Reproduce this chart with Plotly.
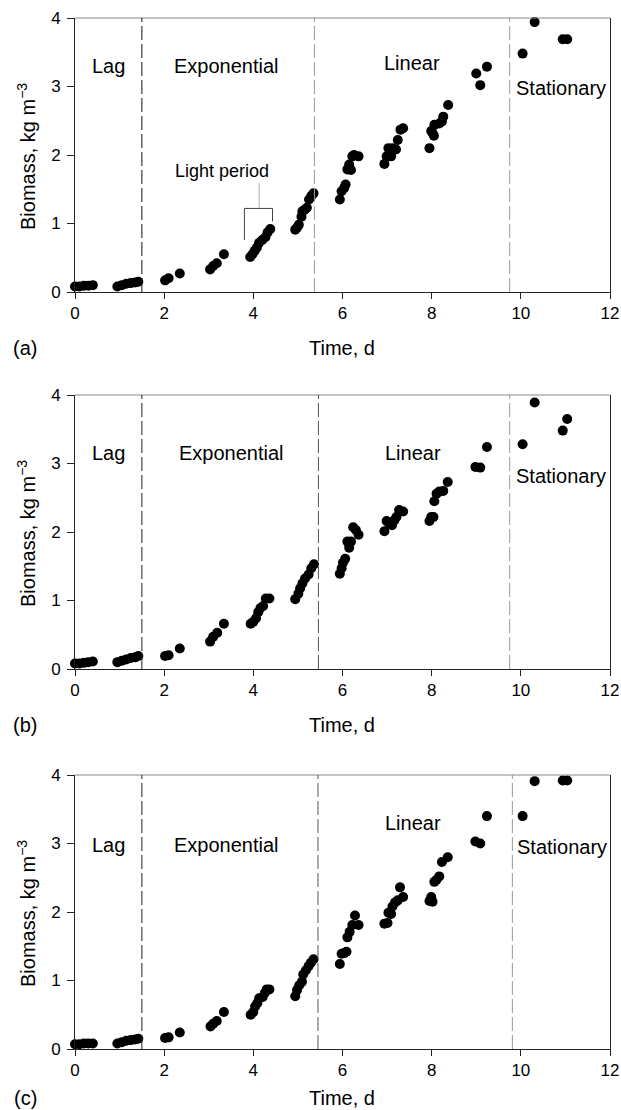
import plotly.graph_objects as go

# ---------------- data ----------------
time_a = [0.0, 0.1, 0.2, 0.3, 0.4,
          0.95, 1.05, 1.15, 1.25, 1.35, 1.42,
          2.02, 2.1, 2.35,
          3.03, 3.1, 3.18, 3.34,
          3.93, 3.98, 4.03, 4.08, 4.13, 4.2, 4.27, 4.32, 4.38,
          4.94, 4.98, 5.02, 5.08, 5.1, 5.15, 5.2, 5.25, 5.3, 5.35,
          5.94, 5.98, 6.04, 6.07, 6.11, 6.15, 6.19, 6.22, 6.26, 6.36,
          6.94, 6.99, 7.03, 7.09, 7.12, 7.2, 7.24, 7.3, 7.36,
          7.95, 7.99, 8.02, 8.05, 8.06, 8.17, 8.23, 8.26, 8.37,
          9.0, 9.09, 9.24,
          10.04, 10.31,
          10.94, 11.04]
biomass_a = [0.08, 0.08, 0.09, 0.09, 0.10,
             0.08, 0.10, 0.12, 0.13, 0.14, 0.15,
             0.17, 0.20, 0.27,
             0.33, 0.38, 0.42, 0.55,
             0.51, 0.55, 0.60, 0.65, 0.72, 0.76, 0.80, 0.87, 0.92,
             0.91, 0.94, 0.98, 1.10, 1.18, 1.20, 1.23, 1.35, 1.40, 1.44,
             1.35, 1.47, 1.52, 1.57, 1.79, 1.86, 1.78, 1.98, 2.00, 1.98,
             1.87, 1.98, 2.10, 1.98, 2.10, 2.08, 2.22, 2.37, 2.39,
             2.10, 2.35, 2.32, 2.28, 2.44, 2.46, 2.49, 2.56, 2.73,
             3.19, 3.02, 3.29,
             3.48, 3.94,
             3.69, 3.69]

time_b = [0.0, 0.1, 0.2, 0.3, 0.4,
          0.95, 1.05, 1.15, 1.25, 1.35, 1.42,
          2.02, 2.1, 2.35,
          3.03, 3.1, 3.19, 3.34,
          3.94, 4.0, 4.06, 4.11, 4.16, 4.22, 4.28, 4.36,
          4.94, 5.01, 5.05, 5.1, 5.16, 5.24, 5.3, 5.36,
          5.94, 5.98, 6.01, 6.06, 6.11, 6.15, 6.19, 6.24, 6.3, 6.36,
          6.94, 6.99, 7.05, 7.11, 7.16, 7.21, 7.27, 7.36,
          7.95, 7.99, 8.04, 8.06, 8.11, 8.17, 8.26, 8.36,
          8.98, 9.09, 9.24,
          10.04, 10.31,
          10.94, 11.04]
biomass_b = [0.08, 0.08, 0.09, 0.10, 0.11,
             0.10, 0.12, 0.14, 0.16, 0.17, 0.19,
             0.19, 0.20, 0.30,
             0.40, 0.47, 0.53, 0.66,
             0.66, 0.69, 0.74, 0.83, 0.89, 0.92, 1.03, 1.03,
             1.02, 1.10, 1.18, 1.25, 1.32, 1.38, 1.47, 1.53,
             1.39, 1.47, 1.55, 1.61, 1.86, 1.77, 1.86, 2.07, 2.03, 1.96,
             2.01, 2.16, 2.12, 2.10, 2.17, 2.22, 2.32, 2.30,
             2.16, 2.22, 2.22, 2.45, 2.56, 2.59, 2.60, 2.73,
             2.95, 2.94, 3.24,
             3.28, 3.89,
             3.48, 3.65]

time_c = [0.0, 0.1, 0.2, 0.3, 0.4,
          0.95, 1.05, 1.15, 1.25, 1.35, 1.42,
          2.02, 2.1, 2.35,
          3.04, 3.1, 3.18, 3.34,
          3.94, 4.0, 4.04, 4.09, 4.13, 4.21, 4.26, 4.3, 4.36,
          4.94, 4.98, 5.03, 5.09, 5.12, 5.18, 5.24, 5.29, 5.35,
          5.94, 5.98, 6.04, 6.09, 6.11, 6.16, 6.22, 6.28, 6.36,
          6.94, 7.01, 7.03, 7.09, 7.12, 7.18, 7.24, 7.29, 7.36,
          7.95, 7.99, 8.02, 8.06, 8.11, 8.17, 8.23, 8.36,
          8.98, 9.09, 9.24,
          10.04, 10.31,
          10.94, 11.04]
biomass_c = [0.07, 0.07, 0.08, 0.08, 0.08,
             0.08, 0.10, 0.12, 0.13, 0.14, 0.15,
             0.16, 0.17, 0.24,
             0.33, 0.37, 0.41, 0.54,
             0.50, 0.54, 0.62, 0.67, 0.74, 0.76, 0.82, 0.87, 0.87,
             0.77, 0.86, 0.93, 0.98, 1.09, 1.15, 1.21, 1.26, 1.31,
             1.24, 1.39, 1.40, 1.42, 1.63, 1.71, 1.81, 1.95, 1.81,
             1.83, 1.84, 1.99, 1.97, 2.08, 2.14, 2.17, 2.36, 2.22,
             2.16, 2.22, 2.15, 2.44, 2.47, 2.52, 2.73, 2.80,
             3.03, 3.00, 3.40,
             3.40, 3.91,
             3.92, 3.92]

panel_labels = ["(a)", "(b)", "(c)"]
phase_names = ["Lag", "Exponential", "Linear", "Stationary"]
phase_bounds_a = [1.5, 5.37, 9.75]
phase_bounds_b = [1.5, 5.46, 9.75]
phase_bounds_c = [1.5, 5.45, 9.81]
x_ticks = [0, 2, 4, 6, 8, 10, 12]
y_ticks = [0, 1, 2, 3, 4]

# ---------------- layout geometry (pixels) ----------------
W, H = 621, 1110
X_LEFT, X_RIGHT = 75, 610
PANEL_PX = [(18, 292), (395, 669), (775, 1049)]
FONT = "Liberation Sans, Arial, sans-serif"

def py(p):
    return 1 - p / H

def px(p):
    return p / W

fig = go.Figure()
series = [(time_a, biomass_a), (time_b, biomass_b), (time_c, biomass_c)]
bounds = [phase_bounds_a, phase_bounds_b, phase_bounds_c]
bound_colors = [["#111111", "#9a9a9a", "#9a9a9a"],
                ["#222222", "#555555", "#9a9a9a"],
                ["#222222", "#555555", "#9a9a9a"]]
phase_pos = [
    [(0.76, 3.30), (3.40, 3.30), (7.55, 3.34), (10.9, 2.98)],
    [(0.76, 3.15), (3.51, 3.15), (7.57, 3.16), (10.9, 2.82)],
    [(0.76, 2.98), (3.39, 2.98), (7.57, 3.30), (10.93, 2.95)],
]
title_offsets = [348, 725, 1098]

shapes = []
annotations = []
for i, ((tx, by), (top, bot)) in enumerate(zip(series, PANEL_PX)):
    n = "" if i == 0 else str(i + 1)
    xa, ya = "x" + n, "y" + n
    fig.add_trace(go.Scatter(x=tx, y=by, mode="markers", xaxis=xa, yaxis=ya,
                             marker=dict(color="black", size=10, line=dict(width=0)),
                             cliponaxis=False, showlegend=False, hoverinfo="x+y"))
    axis_common = dict(showgrid=False, zeroline=False, showline=True, automargin=False,
                       linecolor="#222222", linewidth=1, ticks="outside",
                       tickcolor="#222222", tickwidth=1,
                       tickfont=dict(family=FONT, size=17, color="black"))
    fig.update_layout(**{
        "xaxis" + n: dict(domain=[px(X_LEFT), px(X_RIGHT)], range=[0, 12],
                          tickvals=x_ticks, ticklen=6, anchor=ya, mirror=False,
                          **axis_common),
        "yaxis" + n: dict(domain=[py(bot), py(top)], range=[0, 4],
                          tickvals=y_ticks, ticklen=7, anchor=xa, mirror=True,
                          ticklabelstandoff=3, **axis_common),
    })
    shapes.append(dict(type="line", xref="paper", yref="paper",
                       x0=px(X_LEFT), x1=px(X_RIGHT), y0=py(top), y1=py(top),
                       line=dict(color="#888888", width=1)))
    for b, c in zip(bounds[i], bound_colors[i]):
        shapes.append(dict(type="line", xref=xa, yref=ya + " domain",
                           x0=b, x1=b, y0=0, y1=1,
                           line=dict(color=c, width=1, dash="14px,4px")))
    for name, (ax_, ay_) in zip(phase_names, phase_pos[i]):
        annotations.append(dict(text=name, x=ax_, y=ay_, xref=xa, yref=ya,
                                showarrow=False, xanchor="center", yanchor="middle",
                                font=dict(family=FONT, size=20, color="black")))
    annotations.append(dict(text="Time, d", x=px(342), y=py(title_offsets[i]),
                            xref="paper", yref="paper", showarrow=False,
                            xanchor="center", yanchor="middle",
                            font=dict(family=FONT, size=20, color="black")))
    annotations.append(dict(text=panel_labels[i], x=px(25), y=py(title_offsets[i]),
                            xref="paper", yref="paper", showarrow=False,
                            xanchor="center", yanchor="middle",
                            font=dict(family=FONT, size=20, color="black")))
    annotations.append(dict(text="Biomass, kg m<sup>\u22123</sup>", x=px(26),
                            y=py((top + bot) / 2 + 2), xref="paper", yref="paper",
                            showarrow=False, textangle=-90,
                            xanchor="center", yanchor="middle",
                            font=dict(family=FONT, size=20, color="black")))

# "Light period" bracket in panel (a)
annotations.append(dict(text="Light period", x=3.29, y=1.76, xref="x", yref="y",
                        showarrow=False, xanchor="center", yanchor="middle",
                        font=dict(family=FONT, size=18, color="black")))
bracket = [((4.13, 1.59), (4.13, 1.22), "#b0b0b0"),
           ((3.80, 1.22), (4.43, 1.22), "#444444"),
           ((3.80, 1.22), (3.80, 0.76), "#444444"),
           ((4.43, 1.22), (4.43, 1.03), "#444444")]
for (x0, y0), (x1, y1), c in bracket:
    shapes.append(dict(type="line", xref="x", yref="y", x0=x0, y0=y0, x1=x1, y1=y1,
                       line=dict(color=c, width=1)))

fig.update_layout(width=W, height=H, margin=dict(l=0, r=0, t=0, b=0),
                  paper_bgcolor="white", plot_bgcolor="white",
                  shapes=shapes, annotations=annotations,
                  font=dict(family=FONT, color="black"))

fig.write_html("out.html")
